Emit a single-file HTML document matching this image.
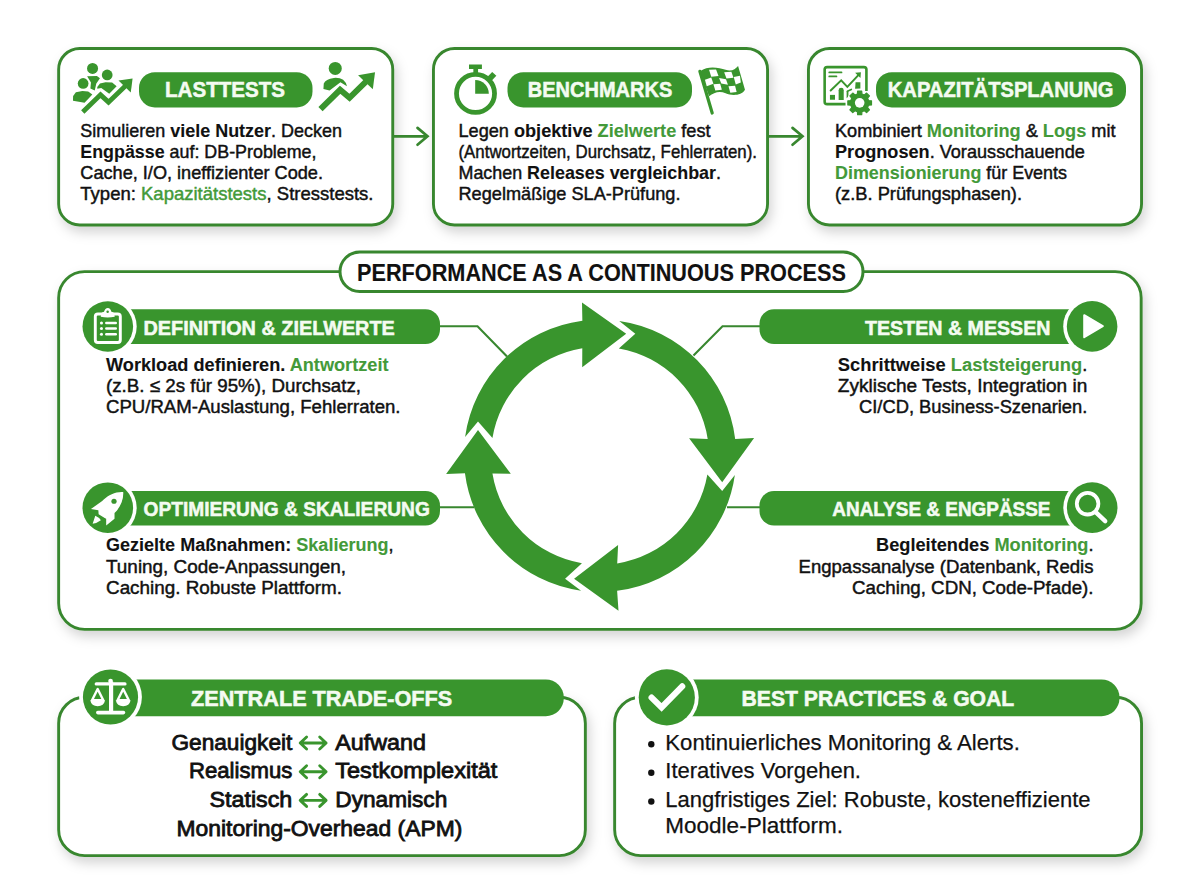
<!DOCTYPE html>
<html lang="de"><head><meta charset="utf-8"><title>Performance as a Continuous Process</title>
<style>html,body{margin:0;padding:0;background:#fff}body{width:1200px;height:896px;overflow:hidden;position:relative}svg{position:absolute;left:0;top:0;display:block}text{font-family:"Liberation Sans", sans-serif;fill:#111111}</style></head><body>
<svg width="1200" height="896" viewBox="0 0 1200 896">
<defs><filter id="sh" x="-10%" y="-10%" width="125%" height="135%"><feDropShadow dx="3" dy="6" stdDeviation="6" flood-color="#000" flood-opacity="0.17"/></filter></defs>
<rect width="1200" height="896" fill="#ffffff"/>
<rect x="58.65" y="48.45" width="334.10" height="176.50" rx="21" ry="21" fill="#fff" stroke="#38872f" stroke-width="2.9" filter="url(#sh)"/>
<rect x="433.45" y="48.45" width="334.10" height="176.50" rx="21" ry="21" fill="#fff" stroke="#38872f" stroke-width="2.9" filter="url(#sh)"/>
<rect x="808.45" y="48.45" width="333.10" height="176.50" rx="21" ry="21" fill="#fff" stroke="#38872f" stroke-width="2.9" filter="url(#sh)"/>
<rect x="58.65" y="271.65" width="1082.50" height="357.70" rx="26" ry="26" fill="#fff" stroke="#38872f" stroke-width="2.9" filter="url(#sh)"/>
<rect x="58.65" y="697.25" width="526.70" height="158.40" rx="26" ry="26" fill="#fff" stroke="#38872f" stroke-width="2.9" filter="url(#sh)"/>
<rect x="614.65" y="697.25" width="526.90" height="158.40" rx="26" ry="26" fill="#fff" stroke="#38872f" stroke-width="2.9" filter="url(#sh)"/>
<path d="M394 136.3 H427.0 M417.5 127.9 L427.5 136.3 L417.5 144.70000000000002" fill="none" stroke="#38872f" stroke-width="2.7" stroke-linecap="round" stroke-linejoin="miter"/>
<path d="M768.5 136.3 H802.0 M792.5 127.9 L802.5 136.3 L792.5 144.70000000000002" fill="none" stroke="#38872f" stroke-width="2.7" stroke-linecap="round" stroke-linejoin="miter"/>
<rect x="139" y="72.2" width="173.5" height="35.2" rx="15.8" fill="#39952d"/>
<rect x="507.5" y="72.2" width="184.5" height="35.2" rx="15.8" fill="#39952d"/>
<rect x="876" y="72.2" width="250" height="35.2" rx="15.8" fill="#39952d"/>
<text x="165.00" y="97.40" font-size="22.4" text-anchor="start" font-weight="normal" textLength="120.00" lengthAdjust="spacingAndGlyphs" stroke="#111111" stroke-width="0.45" xml:space="preserve"><tspan font-weight="bold" fill="#f4fbf1" stroke="#f4fbf1" stroke-width="0.55">LASTTESTS</tspan></text>
<text x="527.80" y="97.40" font-size="22.4" text-anchor="start" font-weight="normal" textLength="144.50" lengthAdjust="spacingAndGlyphs" stroke="#111111" stroke-width="0.45" xml:space="preserve"><tspan font-weight="bold" fill="#f4fbf1" stroke="#f4fbf1" stroke-width="0.55">BENCHMARKS</tspan></text>
<text x="887.80" y="97.40" font-size="22.4" text-anchor="start" font-weight="normal" textLength="225.70" lengthAdjust="spacingAndGlyphs" stroke="#111111" stroke-width="0.45" xml:space="preserve"><tspan font-weight="bold" fill="#f4fbf1" stroke="#f4fbf1" stroke-width="0.55">KAPAZITÄTSPLANUNG</tspan></text>
<text x="80.30" y="136.70" font-size="18.6" text-anchor="start" font-weight="normal" textLength="261.70" lengthAdjust="spacingAndGlyphs" stroke="#111111" stroke-width="0.45" xml:space="preserve">Simulieren <tspan font-weight="bold" stroke-width="0.1">viele Nutzer</tspan>. Decken</text>
<text x="80.30" y="157.60" font-size="18.6" text-anchor="start" font-weight="normal" textLength="236.20" lengthAdjust="spacingAndGlyphs" stroke="#111111" stroke-width="0.45" xml:space="preserve"><tspan font-weight="bold" stroke-width="0.1">Engpässe</tspan> auf: DB-Probleme,</text>
<text x="80.30" y="178.90" font-size="18.6" text-anchor="start" font-weight="normal" textLength="242.70" lengthAdjust="spacingAndGlyphs" stroke="#111111" stroke-width="0.45" xml:space="preserve">Cache, I/O, ineffizienter Code.</text>
<text x="80.30" y="200.40" font-size="18.6" text-anchor="start" font-weight="normal" textLength="293.20" lengthAdjust="spacingAndGlyphs" stroke="#111111" stroke-width="0.45" xml:space="preserve">Typen: <tspan fill="#439a39" stroke="#439a39">Kapazitätstests</tspan>, Stresstests.</text>
<text x="458.50" y="136.70" font-size="18.6" text-anchor="start" font-weight="normal" textLength="252.00" lengthAdjust="spacingAndGlyphs" stroke="#111111" stroke-width="0.45" xml:space="preserve">Legen <tspan font-weight="bold" stroke-width="0.1">objektive</tspan> <tspan font-weight="bold" fill="#439a39" stroke="#439a39" stroke-width="0.1">Zielwerte</tspan> fest</text>
<text x="458.50" y="157.60" font-size="18.6" text-anchor="start" font-weight="normal" textLength="298.50" lengthAdjust="spacingAndGlyphs" stroke="#111111" stroke-width="0.45" xml:space="preserve">(Antwortzeiten, Durchsatz, Fehlerraten).</text>
<text x="458.50" y="178.90" font-size="18.6" text-anchor="start" font-weight="normal" textLength="262.50" lengthAdjust="spacingAndGlyphs" stroke="#111111" stroke-width="0.45" xml:space="preserve">Machen <tspan font-weight="bold" stroke-width="0.1">Releases vergleichbar</tspan>.</text>
<text x="458.50" y="200.40" font-size="18.6" text-anchor="start" font-weight="normal" textLength="222.00" lengthAdjust="spacingAndGlyphs" stroke="#111111" stroke-width="0.45" xml:space="preserve">Regelmäßige SLA-Prüfung.</text>
<text x="835.00" y="136.70" font-size="18.6" text-anchor="start" font-weight="normal" textLength="280.50" lengthAdjust="spacingAndGlyphs" stroke="#111111" stroke-width="0.45" xml:space="preserve">Kombiniert <tspan font-weight="bold" fill="#439a39" stroke="#439a39" stroke-width="0.1">Monitoring</tspan> &amp; <tspan font-weight="bold" fill="#439a39" stroke="#439a39" stroke-width="0.1">Logs</tspan> mit</text>
<text x="835.00" y="157.60" font-size="18.6" text-anchor="start" font-weight="normal" textLength="249.80" lengthAdjust="spacingAndGlyphs" stroke="#111111" stroke-width="0.45" xml:space="preserve"><tspan font-weight="bold" stroke-width="0.1">Prognosen</tspan>. Vorausschauende</text>
<text x="835.00" y="178.90" font-size="18.6" text-anchor="start" font-weight="normal" textLength="232.00" lengthAdjust="spacingAndGlyphs" stroke="#111111" stroke-width="0.45" xml:space="preserve"><tspan font-weight="bold" fill="#439a39" stroke="#439a39" stroke-width="0.1">Dimensionierung</tspan> für Events</text>
<text x="835.00" y="200.40" font-size="18.6" text-anchor="start" font-weight="normal" textLength="187.00" lengthAdjust="spacingAndGlyphs" stroke="#111111" stroke-width="0.45" xml:space="preserve">(z.B. Prüfungsphasen).</text>
<rect x="340.0" y="252.0" width="523.00" height="39.5" rx="19.75" fill="#fff" stroke="#38872f" stroke-width="3.0"/>
<text x="357.00" y="280.80" font-size="23" text-anchor="start" font-weight="normal" textLength="489.00" lengthAdjust="spacingAndGlyphs" stroke="#111111" stroke-width="0.45" xml:space="preserve"><tspan font-weight="bold" stroke-width="0.1">PERFORMANCE AS A CONTINUOUS PROCESS</tspan></text>
<path d="M438 326.3 H477.5 L507 356.5" fill="none" stroke="#38872f" stroke-width="2.1"/>
<path d="M762 326.3 H722.5 L693.5 355.5" fill="none" stroke="#38872f" stroke-width="2.1"/>
<path d="M438 507.3 H474" fill="none" stroke="#38872f" stroke-width="2.1"/>
<path d="M762 507.3 H727" fill="none" stroke="#38872f" stroke-width="2.1"/>
<path d="M465.10 436.97 A136.2 136.2 0 0 1 582.37 320.70 L582 302.6 L626.2 333.8 L582.2 367.3 L582.29 348.20 A109.0 109.0 0 0 0 492.44 438.07 L478 421.6 Z" fill="#39952d"/>
<path d="M619.23 320.91 A136.2 136.2 0 0 1 735.18 439.08 L754.1 438 L722.2 482.2 L689.1 438.3 L707.70 439.00 A109.0 109.0 0 0 0 618.83 348.39 L635.3 333.8 Z" fill="#39952d"/>
<path d="M734.85 474.91 A136.2 136.2 0 0 1 617.12 590.87 L618.5 610.8 L574.1 578.7 L618.1 545.1 L617.22 563.38 A109.0 109.0 0 0 0 707.37 474.52 L722.2 491.1 Z" fill="#39952d"/>
<path d="M581.08 590.63 A136.2 136.2 0 0 1 464.94 473.34 L446.1 474.1 L478 430.1 L510.8 473.8 L492.44 473.42 A109.0 109.0 0 0 0 581.93 563.24 L565.1 578.7 Z" fill="#39952d"/>
<path d="M107.8 309.2 H425.5 A14.5 14.5 0 0 1 440 323.7 V329.6 A14.5 14.5 0 0 1 425.5 344.1 H107.8 Z" fill="#39952d"/>
<circle cx="107.8" cy="326.5" r="28.900000000000002" fill="#fff"/>
<circle cx="107.8" cy="326.5" r="25.3" fill="#39952d"/>
<path d="M107.8 490.9 H425.5 A14.5 14.5 0 0 1 440 505.4 V511.0 A14.5 14.5 0 0 1 425.5 525.5 H107.8 Z" fill="#39952d"/>
<circle cx="107.8" cy="507.7" r="28.900000000000002" fill="#fff"/>
<circle cx="107.8" cy="507.7" r="25.3" fill="#39952d"/>
<path d="M1092.1 309.3 H774.0 A14.5 14.5 0 0 0 759.5 323.8 V329.6 A14.5 14.5 0 0 0 774.0 344.1 H1092.1 Z" fill="#39952d"/>
<circle cx="1092.1" cy="326.4" r="28.900000000000002" fill="#fff"/>
<circle cx="1092.1" cy="326.4" r="25.3" fill="#39952d"/>
<path d="M1092.2 490.9 H774.0 A14.5 14.5 0 0 0 759.5 505.4 V511.0 A14.5 14.5 0 0 0 774.0 525.5 H1092.2 Z" fill="#39952d"/>
<circle cx="1092.2" cy="507.6" r="28.900000000000002" fill="#fff"/>
<circle cx="1092.2" cy="507.6" r="25.3" fill="#39952d"/>
<text x="143.50" y="334.70" font-size="20.7" text-anchor="start" font-weight="normal" textLength="251.30" lengthAdjust="spacingAndGlyphs" stroke="#111111" stroke-width="0.45" xml:space="preserve"><tspan font-weight="bold" fill="#f4fbf1" stroke="#f4fbf1" stroke-width="0.55">DEFINITION &amp; ZIELWERTE</tspan></text>
<text x="143.50" y="515.80" font-size="20.7" text-anchor="start" font-weight="normal" textLength="286.30" lengthAdjust="spacingAndGlyphs" stroke="#111111" stroke-width="0.45" xml:space="preserve"><tspan font-weight="bold" fill="#f4fbf1" stroke="#f4fbf1" stroke-width="0.55">OPTIMIERUNG &amp; SKALIERUNG</tspan></text>
<text x="865.00" y="334.70" font-size="20.7" text-anchor="start" font-weight="normal" textLength="185.50" lengthAdjust="spacingAndGlyphs" stroke="#111111" stroke-width="0.45" xml:space="preserve"><tspan font-weight="bold" fill="#f4fbf1" stroke="#f4fbf1" stroke-width="0.55">TESTEN &amp; MESSEN</tspan></text>
<text x="832.30" y="515.80" font-size="20.7" text-anchor="start" font-weight="normal" textLength="218.20" lengthAdjust="spacingAndGlyphs" stroke="#111111" stroke-width="0.45" xml:space="preserve"><tspan font-weight="bold" fill="#f4fbf1" stroke="#f4fbf1" stroke-width="0.55">ANALYSE &amp; ENGPÄSSE</tspan></text>
<text x="106.00" y="371.00" font-size="18.8" text-anchor="start" font-weight="normal" textLength="282.50" lengthAdjust="spacingAndGlyphs" stroke="#111111" stroke-width="0.45" xml:space="preserve"><tspan font-weight="bold" stroke-width="0.1">Workload definieren. </tspan><tspan font-weight="bold" fill="#439a39" stroke="#439a39" stroke-width="0.1">Antwortzeit</tspan></text>
<text x="106.00" y="392.30" font-size="18.8" text-anchor="start" font-weight="normal" textLength="255.00" lengthAdjust="spacingAndGlyphs" stroke="#111111" stroke-width="0.45" xml:space="preserve">(z.B. ≤ 2s für 95%), Durchsatz,</text>
<text x="106.00" y="413.30" font-size="18.8" text-anchor="start" font-weight="normal" textLength="294.50" lengthAdjust="spacingAndGlyphs" stroke="#111111" stroke-width="0.45" xml:space="preserve">CPU/RAM-Auslastung, Fehlerraten.</text>
<text x="106.00" y="551.30" font-size="18.8" text-anchor="start" font-weight="normal" textLength="287.50" lengthAdjust="spacingAndGlyphs" stroke="#111111" stroke-width="0.45" xml:space="preserve"><tspan font-weight="bold" stroke-width="0.1">Gezielte Maßnahmen: </tspan><tspan font-weight="bold" fill="#439a39" stroke="#439a39" stroke-width="0.1">Skalierung</tspan>,</text>
<text x="106.00" y="572.50" font-size="18.8" text-anchor="start" font-weight="normal" textLength="240.00" lengthAdjust="spacingAndGlyphs" stroke="#111111" stroke-width="0.45" xml:space="preserve">Tuning, Code-Anpassungen,</text>
<text x="106.00" y="593.80" font-size="18.8" text-anchor="start" font-weight="normal" textLength="236.00" lengthAdjust="spacingAndGlyphs" stroke="#111111" stroke-width="0.45" xml:space="preserve">Caching. Robuste Plattform.</text>
<text x="837.80" y="370.80" font-size="18.8" text-anchor="start" font-weight="normal" textLength="249.50" lengthAdjust="spacingAndGlyphs" stroke="#111111" stroke-width="0.45" xml:space="preserve"><tspan font-weight="bold" stroke-width="0.1">Schrittweise </tspan><tspan font-weight="bold" fill="#439a39" stroke="#439a39" stroke-width="0.1">Laststeigerung</tspan>.</text>
<text x="837.80" y="392.10" font-size="18.8" text-anchor="start" font-weight="normal" textLength="249.50" lengthAdjust="spacingAndGlyphs" stroke="#111111" stroke-width="0.45" xml:space="preserve">Zyklische Tests, Integration in</text>
<text x="859.00" y="413.30" font-size="18.8" text-anchor="start" font-weight="normal" textLength="228.30" lengthAdjust="spacingAndGlyphs" stroke="#111111" stroke-width="0.45" xml:space="preserve">CI/CD, Business-Szenarien.</text>
<text x="876.00" y="551.30" font-size="18.8" text-anchor="start" font-weight="normal" textLength="217.50" lengthAdjust="spacingAndGlyphs" stroke="#111111" stroke-width="0.45" xml:space="preserve"><tspan font-weight="bold" stroke-width="0.1">Begleitendes </tspan><tspan font-weight="bold" fill="#439a39" stroke="#439a39" stroke-width="0.1">Monitoring</tspan>.</text>
<text x="798.50" y="572.50" font-size="18.8" text-anchor="start" font-weight="normal" textLength="295.00" lengthAdjust="spacingAndGlyphs" stroke="#111111" stroke-width="0.45" xml:space="preserve">Engpassanalyse (Datenbank, Redis</text>
<text x="852.00" y="593.80" font-size="18.8" text-anchor="start" font-weight="normal" textLength="241.50" lengthAdjust="spacingAndGlyphs" stroke="#111111" stroke-width="0.45" xml:space="preserve">Caching, CDN, Code-Pfade).</text>
<path d="M110.5 679.5 H545.8 A18.0 18.0 0 0 1 563.8 697.5 V698.2 A18.0 18.0 0 0 1 545.8 716.2 H110.5 Z" fill="#39952d"/>
<circle cx="110.5" cy="697" r="31.400000000000002" fill="#fff"/>
<circle cx="110.5" cy="697" r="27.6" fill="#39952d"/>
<path d="M666.8 679.5 H1101.5 A18.0 18.0 0 0 1 1119.5 697.5 V698.2 A18.0 18.0 0 0 1 1101.5 716.2 H666.8 Z" fill="#39952d"/>
<circle cx="666.8" cy="697.4" r="31.900000000000002" fill="#fff"/>
<circle cx="666.8" cy="697.4" r="28.1" fill="#39952d"/>
<text x="191.00" y="705.90" font-size="22.4" text-anchor="start" font-weight="normal" textLength="261.30" lengthAdjust="spacingAndGlyphs" stroke="#111111" stroke-width="0.45" xml:space="preserve"><tspan font-weight="bold" fill="#f4fbf1" stroke="#f4fbf1" stroke-width="0.55">ZENTRALE TRADE-OFFS</tspan></text>
<text x="741.50" y="705.90" font-size="22.4" text-anchor="start" font-weight="normal" textLength="272.80" lengthAdjust="spacingAndGlyphs" stroke="#111111" stroke-width="0.45" xml:space="preserve"><tspan font-weight="bold" fill="#f4fbf1" stroke="#f4fbf1" stroke-width="0.55">BEST PRACTICES &amp; GOAL</tspan></text>
<text x="171.50" y="749.50" font-size="22.2" text-anchor="start" font-weight="normal" textLength="120.80" lengthAdjust="spacingAndGlyphs" stroke="#111111" stroke-width="0.8" xml:space="preserve">Genauigkeit</text>
<text x="335.30" y="749.50" font-size="22.2" text-anchor="start" font-weight="normal" textLength="90.70" lengthAdjust="spacingAndGlyphs" stroke="#111111" stroke-width="0.8" xml:space="preserve">Aufwand</text>
<text x="189.00" y="778.20" font-size="22.2" text-anchor="start" font-weight="normal" textLength="103.30" lengthAdjust="spacingAndGlyphs" stroke="#111111" stroke-width="0.8" xml:space="preserve">Realismus</text>
<text x="335.30" y="778.20" font-size="22.2" text-anchor="start" font-weight="normal" textLength="162.00" lengthAdjust="spacingAndGlyphs" stroke="#111111" stroke-width="0.8" xml:space="preserve">Testkomplexität</text>
<text x="209.50" y="806.90" font-size="22.2" text-anchor="start" font-weight="normal" textLength="82.80" lengthAdjust="spacingAndGlyphs" stroke="#111111" stroke-width="0.8" xml:space="preserve">Statisch</text>
<text x="335.30" y="806.90" font-size="22.2" text-anchor="start" font-weight="normal" textLength="112.00" lengthAdjust="spacingAndGlyphs" stroke="#111111" stroke-width="0.8" xml:space="preserve">Dynamisch</text>
<text x="176.50" y="835.60" font-size="22.2" text-anchor="start" font-weight="normal" textLength="285.80" lengthAdjust="spacingAndGlyphs" stroke="#111111" stroke-width="0.8" xml:space="preserve">Monitoring-Overhead (APM)</text>
<path d="M300.3 743 H326.0 M306.6 737 L300.2 743 L306.6 749 M319.7 737 L326.1 743 L319.7 749" fill="none" stroke="#39952d" stroke-width="2.9" stroke-linecap="round" stroke-linejoin="round"/>
<path d="M300.3 771.7 H326.0 M306.6 765.7 L300.2 771.7 L306.6 777.7 M319.7 765.7 L326.1 771.7 L319.7 777.7" fill="none" stroke="#39952d" stroke-width="2.9" stroke-linecap="round" stroke-linejoin="round"/>
<path d="M300.3 800.4 H326.0 M306.6 794.4 L300.2 800.4 L306.6 806.4 M319.7 794.4 L326.1 800.4 L319.7 806.4" fill="none" stroke="#39952d" stroke-width="2.9" stroke-linecap="round" stroke-linejoin="round"/>
<text x="665.30" y="749.50" font-size="22.2" text-anchor="start" font-weight="normal" textLength="354.50" lengthAdjust="spacingAndGlyphs" stroke="#111111" stroke-width="0.25" xml:space="preserve">Kontinuierliches Monitoring &amp; Alerts.</text>
<text x="665.30" y="778.20" font-size="22.2" text-anchor="start" font-weight="normal" textLength="195.70" lengthAdjust="spacingAndGlyphs" stroke="#111111" stroke-width="0.25" xml:space="preserve">Iteratives Vorgehen.</text>
<text x="665.30" y="806.90" font-size="22.2" text-anchor="start" font-weight="normal" textLength="425.20" lengthAdjust="spacingAndGlyphs" stroke="#111111" stroke-width="0.25" xml:space="preserve">Langfristiges Ziel: Robuste, kosteneffiziente</text>
<text x="665.30" y="832.60" font-size="22.2" text-anchor="start" font-weight="normal" textLength="177.70" lengthAdjust="spacingAndGlyphs" stroke="#111111" stroke-width="0.25" xml:space="preserve">Moodle-Plattform.</text>
<circle cx="651.3" cy="744.2" r="3.2" fill="#111111"/>
<circle cx="651.3" cy="772.8" r="3.2" fill="#111111"/>
<circle cx="651.3" cy="801.5" r="3.2" fill="#111111"/>
<circle cx="92.56" cy="68.42" r="5.51" fill="#39952d"/>
<circle cx="107.20" cy="74.94" r="5.37" fill="#39952d"/>
<circle cx="83.13" cy="83.43" r="5.37" fill="#39952d"/>
<polygon points="87.12,76.17 96.91,75.88 99.95,78.35 96.33,83.43 94.73,90.53 90.38,88.50 90.96,82.56" fill="#39952d"/>
<polygon points="97.27,87.05 99.95,83.43 105.61,82.19 112.14,82.56 116.63,86.18 109.23,93.87 101.26,87.99 97.27,88.79" fill="#39952d"/>
<polygon points="73.12,95.97 75.88,92.35 82.40,90.90 88.21,91.40 92.34,94.52 84.58,102.64 72.98,100.69" fill="#39952d"/>
<polyline points="82.77,111.93 100.53,94.88 108.51,102.14 126.64,84.73" fill="none" stroke="#39952d" stroke-width="4.8" stroke-linejoin="miter"/>
<polygon points="118.52,80.38 132.59,78.42 130.77,92.49" fill="#39952d"/>
<circle cx="335.24" cy="68.42" r="6.53" fill="#39952d"/>
<path d="M323.42,89.08 L323.78,83.43 Q325.59,79.29 333.93,77.92 Q344.81,77.12 346.98,86.33 L340.46,82.19 L329.58,90.53 Z" fill="#39952d"/>
<polyline points="320.51,109.02 340.09,89.81 349.52,97.78 368.01,79.66" fill="none" stroke="#39952d" stroke-width="6" stroke-linejoin="miter"/>
<polygon points="358.08,75.30 375.05,72.26 372.80,89.23" fill="#39952d"/>
<circle cx="475.53" cy="93.43" r="19.0" fill="none" stroke="#39952d" stroke-width="4.8"/>
<polygon points="469.01,64.43 481.91,64.43 481.91,68.92 478.07,68.92 478.07,73.49 473.36,73.49 473.36,68.92 469.01,68.92" fill="#39952d"/>
<polygon points="487.50,76.75 492.21,72.04 496.35,75.81 491.85,80.53" fill="#39952d"/>
<path d="M475.17 93.80 L475.17 80.02 A13.7 13.7 0 0 1 488.80 93.80 Z" fill="#39952d"/>
<line x1="699.87" y1="71.32" x2="712.19" y2="113.01" stroke="#39952d" stroke-width="3.2" stroke-linecap="round"/>
<path d="M700.08 71.32 C708.93 65.15 719.08 68.05 725.61 69.87 S735.04 69.14 738.08 65.88 L744.97 89.81 C741.56 95.97 731.41 95.97 725.61 93.29 S714.01 92.13 709.08 96.33 Z" fill="#39952d"/>
<polygon points="709.08,69.87 716.04,69.50 718.50,76.03 711.25,76.75" fill="#fff"/>
<polygon points="724.16,72.26 731.41,71.82 733.44,77.63 726.48,78.57" fill="#fff"/>
<polygon points="704.94,79.66 711.25,77.48 713.43,83.64 706.75,86.33" fill="#fff"/>
<polygon points="719.08,78.06 725.97,79.29 727.93,84.73 721.26,83.43" fill="#fff"/>
<polygon points="733.73,77.12 739.97,75.67 740.84,82.41 735.76,84.59" fill="#fff"/>
<polygon points="713.43,84.37 720.17,83.86 721.84,89.66 715.31,90.53" fill="#fff"/>
<polygon points="728.51,86.18 735.04,85.82 736.63,91.98 730.32,92.71" fill="#fff"/>
<path d="M845.53 104.17 H827.15 Q824.65 104.17 824.65 101.67 V69.61 Q824.65 67.11 827.15 67.11 H863.92 Q866.42 67.11 866.42 69.61 V90.90" fill="none" stroke="#39952d" stroke-width="2.6"/>
<path d="M829.22 72.40 L841.54 72.40 M829.22 76.39 L836.47 76.39" stroke="#39952d" stroke-width="1.7" stroke-linecap="round" fill="none"/>
<polyline points="830.67,90.53 841.18,80.38 847.35,86.91 858.59,74.94" fill="none" stroke="#39952d" stroke-width="2" stroke-linecap="round" stroke-linejoin="miter"/>
<polygon points="855.11,72.84 860.91,72.26 860.47,78.06" fill="#39952d"/>
<polygon points="829.94,94.88 835.02,94.88 835.02,99.74 829.94,99.74" fill="#39952d"/>
<path d="M838.64 99.96 L838.64 90.17 Q838.64 87.78 841.18 87.78 Q843.72 87.78 843.72 90.17 L843.72 99.96 Z" fill="#39952d"/>
<polygon points="855.54,82.19 860.40,82.19 860.40,88.50 855.11,88.79" fill="#39952d"/>
<polygon points="846.62,91.26 848.43,90.53 848.43,97.06 846.62,98.15" fill="#39952d"/>
<path d="M847.35 91.26 L851.33 89.45" stroke="#39952d" stroke-width="1.6" stroke-linecap="round"/>
<circle cx="859.67" cy="102.86" r="13.20" fill="#fff"/>
<polygon points="857.40 93.95 857.64 91.03 861.70 91.03 861.95 93.95 864.37 94.95 866.60 93.06 869.47 95.93 867.59 98.17 868.59 100.58 871.50 100.83 871.50 104.89 868.59 105.14 867.59 107.55 869.47 109.79 866.60 112.66 864.37 110.77 861.95 111.77 861.70 114.69 857.64 114.69 857.40 111.77 854.98 110.77 852.75 112.66 849.88 109.79 851.76 107.55 850.76 105.14 847.85 104.89 847.85 100.83 850.76 100.58 851.76 98.17 849.88 95.93 852.75 93.06 854.98 94.95" fill="#39952d" stroke="#39952d" stroke-width="1.2" stroke-linejoin="round"/>
<circle cx="859.67" cy="102.86" r="8.90" fill="#39952d"/>
<circle cx="859.67" cy="102.86" r="4.80" fill="#fff"/>
<rect x="95.30" y="314.00" width="25.02" height="28.50" rx="2.6" fill="none" stroke="#ffffff" stroke-width="2.9"/>
<path d="M100.74 316.75 L101.25 314.00 Q101.47 312.04 104.01 311.82 Q105.09 308.05 107.78 307.91 Q110.53 308.05 111.40 311.82 Q114.16 312.04 114.30 314.00 L114.74 316.75 Q107.63 318.21 100.74 316.75 Z" fill="#ffffff"/>
<circle cx="107.63" cy="311.68" r="1.23" fill="#39952d"/>
<circle cx="101.47" cy="322.92" r="1.52" fill="#ffffff"/>
<path d="M106.33 322.92 L115.75 322.92" stroke="#ffffff" stroke-width="2.5" stroke-linecap="round"/>
<circle cx="101.47" cy="328.50" r="1.52" fill="#ffffff"/>
<path d="M106.33 328.50 L115.75 328.50" stroke="#ffffff" stroke-width="2.5" stroke-linecap="round"/>
<circle cx="101.47" cy="334.16" r="1.52" fill="#ffffff"/>
<path d="M106.33 334.16 L115.75 334.16" stroke="#ffffff" stroke-width="2.5" stroke-linecap="round"/>
<path d="M123.22 492.04 C115.61 491.53 108.36 495.30 104.01 499.29 L102.19 501.11 L90.95 509.08 L98.35 510.17 L98.64 514.30 L105.09 518.29 L106.18 518.65 L106.18 525.54 L114.52 518.65 L114.52 513.07 C120.11 507.63 123.73 500.38 123.22 492.04 Z" fill="#ffffff"/>
<circle cx="114.01" cy="501.25" r="2.61" fill="#39952d"/>
<path d="M92.62 523.73 L95.30 515.83 Q99.66 517.78 100.89 520.32 Q96.75 523.44 92.62 523.73 Z" fill="#ffffff"/>
<path d="M1084.2 315.2 L1102.8 326.2 L1084.2 337.2 Z" fill="#ffffff" stroke="#ffffff" stroke-width="2" stroke-linejoin="round"/>
<circle cx="1087.6" cy="503.7" r="10.8" fill="none" stroke="#ffffff" stroke-width="3.8"/>
<path d="M1096.5 512.8 L1105.2 521.2" stroke="#ffffff" stroke-width="4.4" stroke-linecap="round"/>
<path d="M96.25 683.88 L125.00 683.88" stroke="#ffffff" stroke-width="3.2" stroke-linecap="round"/>
<circle cx="110.55" cy="680.98" r="2.34" fill="#ffffff"/>
<path d="M111.09 681.53 L111.09 712.00" stroke="#ffffff" stroke-width="4.2"/>
<path d="M97.81 712.62 L123.44 712.62" stroke="#ffffff" stroke-width="3.6" stroke-linecap="round"/>
<path d="M97.66 688.95 L92.03 700.28 L103.28 700.28 Z" fill="none" stroke="#ffffff" stroke-width="2.4" stroke-linejoin="round"/>
<path d="M90.23 700.28 L105.08 700.28 Q103.91 706.14 97.66 706.14 Q91.41 706.14 90.23 700.28 Z" fill="#ffffff"/>
<path d="M123.20 688.95 L117.58 700.28 L128.83 700.28 Z" fill="none" stroke="#ffffff" stroke-width="2.4" stroke-linejoin="round"/>
<path d="M115.78 700.28 L130.62 700.28 Q129.45 706.14 123.20 706.14 Q116.95 706.14 115.78 700.28 Z" fill="#ffffff"/>
<path d="M651.6 697.6 L661.6 707.4 L682.2 686.4" fill="none" stroke="#ffffff" stroke-width="6.2" stroke-linecap="round" stroke-linejoin="miter"/>
</svg></body></html>
